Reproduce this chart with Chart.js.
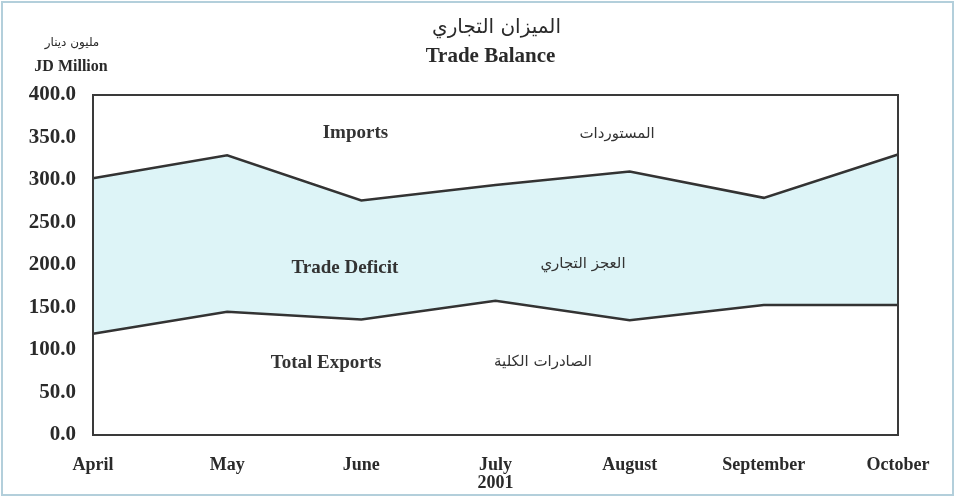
<!DOCTYPE html>
<html>
<head>
<meta charset="utf-8">
<script src="https://cdn.jsdelivr.net/npm/chart.js@4/dist/chart.umd.min.js"></script>
<style>
  html, body { margin: 0; padding: 0; background: #ffffff; }
  canvas { display: block; }
</style>
</head>
<body>
<canvas id="c" width="956" height="499"></canvas>
<script>
const months = ["April", "May", "June", ["July", "2001"], "August", "September", "October"];
const imports = [302, 329, 276, 294, 310, 279, 330];
const totalExports = [119, 145, 136, 158, 135, 153, 153];
const yTicks = [0, 50, 100, 150, 200, 250, 300, 350, 400];

const titleAr = "الميزان التجاري";
const titleEn = "Trade Balance";
const unitAr = "مليون دينار";
const unitEn = "JD Million";

// region labels: [text, category position, value, isArabic]
const regionLabels = [
  ["Imports", 1.956, 355, false],
  ["المستوردات", 3.906, 354, true],
  ["Trade Deficit", 1.878, 196.5, false],
  ["العجز التجاري", 3.652, 201, true],
  ["Total Exports", 1.737, 85, false],
  ["الصادرات الكلية", 3.354, 86, true]
];

const serifBold = "bold 19px 'Liberation Serif', 'DejaVu Serif', serif";
const arabicFont = "15px 'DejaVu Sans', sans-serif";

const decorPlugin = {
  id: 'decor',
  beforeDraw(chart) {
    const ctx = chart.ctx;
    ctx.save();
    ctx.fillStyle = '#ffffff';
    ctx.fillRect(0, 0, chart.width, chart.height);
    ctx.restore();
  },
  afterDraw(chart) {
    const ctx = chart.ctx;
    const a = chart.chartArea;
    const xs = chart.scales.x, ys = chart.scales.y;
    ctx.save();
    // outer frame
    ctx.strokeStyle = '#b3cfdb';
    ctx.lineWidth = 2;
    ctx.strokeRect(2, 2, chart.width - 5, chart.height - 6);
    // plot border
    ctx.strokeStyle = '#3a3a3a';
    ctx.lineWidth = 2;
    ctx.strokeRect(a.left, a.top, a.right - a.left, a.bottom - a.top);
    // titles
    ctx.fillStyle = '#2a2a2a';
    ctx.textAlign = 'center';
    ctx.textBaseline = 'middle';
    const cx = (a.left + a.right) / 2;
    ctx.font = "20px 'DejaVu Sans', sans-serif";
    ctx.fillText(titleAr, cx + 1, 28);
    ctx.font = "bold 21px 'Liberation Serif', serif";
    ctx.fillText(titleEn, cx - 5, 57);
    ctx.font = "12px 'DejaVu Sans', sans-serif";
    ctx.fillText(unitAr, 72, 43);
    ctx.font = "bold 16px 'Liberation Serif', serif";
    ctx.fillText(unitEn, 71, 67);
    // region labels
    regionLabels.forEach(([t, xv, yv, ar]) => {
      ctx.font = ar ? arabicFont : serifBold;
      ctx.fillStyle = '#333333';
      ctx.fillText(t, xs.getPixelForValue(xv), ys.getPixelForValue(yv));
    });
    ctx.restore();
  }
};

new Chart(document.getElementById('c'), {
  type: 'line',
  data: {
    labels: months,
    datasets: [
      {
        label: 'Total Exports',
        data: totalExports,
        borderColor: '#333333',
        borderWidth: 2.5,
        pointRadius: 0,
        fill: false,
        tension: 0
      },
      {
        label: 'Imports',
        data: imports,
        borderColor: '#333333',
        borderWidth: 2.5,
        pointRadius: 0,
        backgroundColor: '#ddf4f7',
        fill: '-1',
        tension: 0
      }
    ]
  },
  options: {
    responsive: false,
    animation: false,
    devicePixelRatio: 1,
    layout: { padding: { top: 95, right: 58, left: 0, bottom: 0 } },
    plugins: { legend: { display: false }, tooltip: { enabled: false }, title: { display: false } },
    scales: {
      x: {
        type: 'category',
        offset: false,
        grid: { display: false, drawTicks: false },
        border: { display: false },
        ticks: {
          color: '#2a2a2a',
          font: { family: "'Liberation Serif', serif", size: 18, weight: 'bold', lineHeight: 1.0 },
          padding: 21,
          maxRotation: 0,
          autoSkip: false
        },
        afterFit(scale) { scale.height = 64; }
      },
      y: {
        min: 0,
        max: 400,
        afterBuildTicks(scale) { scale.ticks = yTicks.map(v => ({ value: v })); },
        grid: { display: false, drawTicks: false },
        border: { display: false },
        ticks: {
          color: '#2a2a2a',
          font: { family: "'Liberation Serif', serif", size: 21, weight: 'bold' },
          padding: 17,
          callback: v => Number(v).toFixed(1)
        },
        afterFit(scale) { scale.width = 93; }
      }
    }
  },
  plugins: [decorPlugin]
});
</script>
</body>
</html>
